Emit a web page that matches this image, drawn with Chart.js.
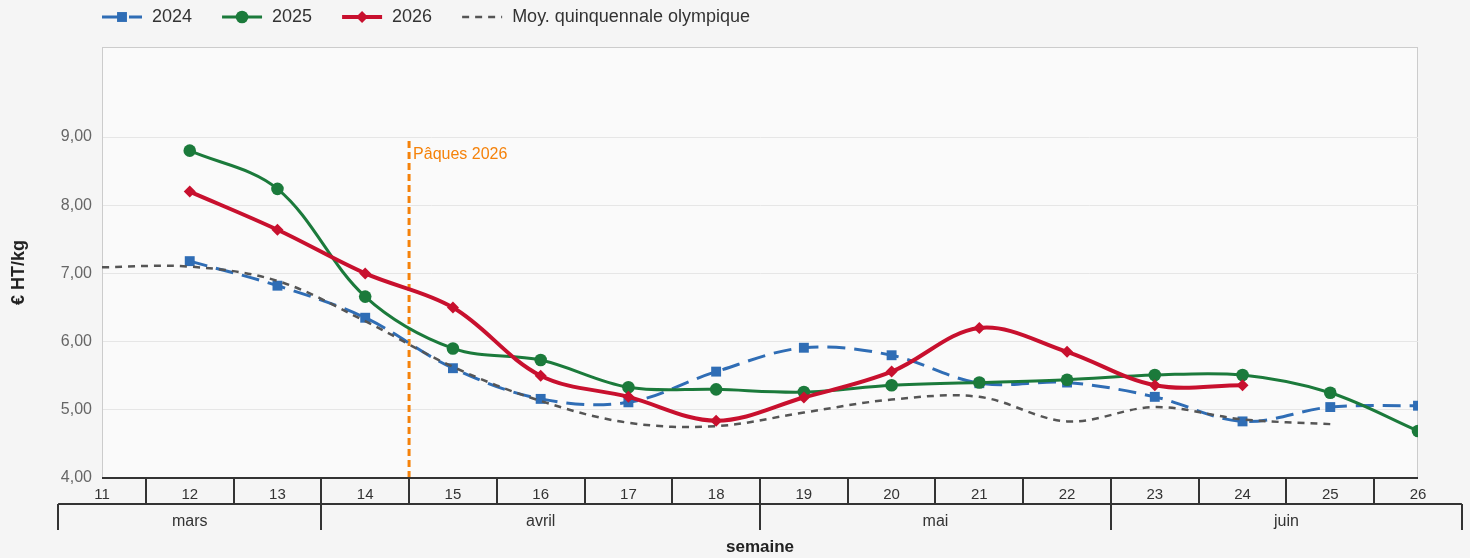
<!DOCTYPE html>
<html><head><meta charset="utf-8">
<script src="https://cdn.jsdelivr.net/npm/chart.js@4.4.1/dist/chart.umd.min.js"></script>
<style>html,body{margin:0;padding:0;background:#f5f5f5;}#wrap{width:1470px;height:558px;position:relative}</style>
</head><body><div id="wrap"><canvas id="c" width="1470" height="558"></canvas></div>
<script>
// ---- data ----
const weeks = [11,12,13,14,15,16,17,18,19,20,21,22,23,24,25,26];
const weekLabels = ['11','12','13','14','15','16','17','18','19','20','21','22','23','24','25','26'];
const months = ['mars','avril','mai','juin'];
const monthFirstWeek = [11,14,19,23];
const monthLastWeek = [13,18,22,26];
const values2024 = [null,7.18,6.82,6.35,5.61,5.16,5.11,5.56,5.91,5.80,5.39,5.40,5.19,4.83,5.04,5.06];
const values2025 = [null,8.80,8.24,6.66,5.90,5.73,5.33,5.30,5.26,5.36,5.40,5.44,5.51,5.51,5.25,4.69];
const values2026 = [null,8.20,7.64,7.00,6.50,5.50,5.19,4.84,5.18,5.56,6.20,5.85,5.36,5.36,null,null];
const valuesAvg  = [7.09,7.10,6.89,6.30,5.63,5.13,4.81,4.76,4.96,5.15,5.19,4.83,5.04,4.86,4.79,null];
const seriesNames = ['2024','2025','2026','Moy. quinquennale olympique'];
const easterWeek = 14.5;
const easterRange = [4, 9];
const easterLabel = 'Pâques 2026';
const yTickMax = 9;

const FONT = "'Liberation Sans', Arial, sans-serif";
const toPts = arr => weeks.map((w,i)=>({x:w,y:arr[i]}));

const bgPlugin = {
  id:'bg',
  beforeDraw(chart){
    const {ctx, chartArea:a} = chart;
    ctx.save();
    ctx.fillStyle='#f5f5f5'; ctx.fillRect(0,0,chart.width,chart.height);
    ctx.fillStyle='#fafafa'; ctx.fillRect(a.left,a.top,a.right-a.left,a.bottom-a.top);
    ctx.strokeStyle='#cccccc'; ctx.lineWidth=1;
    ctx.strokeRect(a.left+0.5,a.top+0.5,a.right-a.left-1,a.bottom-a.top);
    ctx.restore();
  }
};

const axisPlugin = {
  id:'axisDeco',
  afterDraw(chart){
    const {ctx, chartArea:a, scales:{x,y}} = chart;
    ctx.save();
    // easter label
    ctx.fillStyle='#f5820a'; ctx.font='16px '+FONT; ctx.textAlign='left'; ctx.textBaseline='middle';
    ctx.fillText(easterLabel, x.getPixelForValue(easterWeek)+4, y.getPixelForValue(easterRange[1])+18);
    // axis line
    ctx.strokeStyle='#333'; ctx.lineWidth=2;
    ctx.beginPath(); ctx.moveTo(a.left,a.bottom); ctx.lineTo(a.right,a.bottom); ctx.stroke();
    const r1 = a.bottom+26, r2 = a.bottom+52;
    // week separators
    ctx.beginPath();
    for(let i=0;i<weeks.length-1;i++){
      const px = Math.round(x.getPixelForValue((weeks[i]+weeks[i+1])/2));
      ctx.moveTo(px,a.bottom); ctx.lineTo(px,r1);
    }
    ctx.stroke();
    ctx.fillStyle='#333'; ctx.font='15px '+FONT; ctx.textAlign='center'; ctx.textBaseline='middle';
    weeks.forEach((w,i)=>ctx.fillText(weekLabels[i], x.getPixelForValue(w), a.bottom+17));
    // month row
    const mL = x.getPixelForValue(monthFirstWeek[0]-0.5), mR = x.getPixelForValue(monthLastWeek[monthLastWeek.length-1]+0.5);
    ctx.beginPath(); ctx.moveTo(mL,r1); ctx.lineTo(mR,r1);
    months.forEach((m,i)=>{
      const p0 = Math.round(x.getPixelForValue(monthFirstWeek[i]-0.5));
      const p1 = Math.round(x.getPixelForValue(monthLastWeek[i]+0.5));
      ctx.moveTo(p0,r1); ctx.lineTo(p0,r2); ctx.moveTo(p1,r1); ctx.lineTo(p1,r2);
    });
    ctx.stroke();
    ctx.font='16px '+FONT;
    months.forEach((m,i)=>{
      const c = (x.getPixelForValue(monthFirstWeek[i]-0.5)+x.getPixelForValue(monthLastWeek[i]+0.5))/2;
      ctx.fillText(m,c,a.bottom+44);
    });
    ctx.font='bold 17px '+FONT; ctx.fillStyle='#222';
    ctx.fillText('semaine',(a.left+a.right)/2,a.bottom+69);
    // y title
    ctx.save(); ctx.translate(19,(a.top+a.bottom)/2+10); ctx.rotate(-Math.PI/2);
    ctx.font='bold 18px '+FONT; ctx.fillStyle='#222'; ctx.fillText('€ HT/kg',0,0); ctx.restore();
    // legend
    let sx = 102; const ly = 17;
    ctx.font='18px '+FONT; ctx.textAlign='left';
    seriesNames.forEach((name,i)=>{
      const ds = chart.data.datasets[i];
      ctx.save();
      ctx.strokeStyle=ds.borderColor; ctx.lineWidth=ds.borderWidth;
      ctx.setLineDash(ds.borderDash||[]);
      ctx.beginPath(); ctx.moveTo(sx,ly); ctx.lineTo(sx+40,ly); ctx.stroke();
      ctx.setLineDash([]);
      if(ds.pointRadius>0){
        ctx.fillStyle=ds.pointBackgroundColor;
        ctx.strokeStyle=ds.pointBackgroundColor;
        Chart.helpers.drawPoint(ctx,{pointStyle:ds.pointStyle,rotation:0,radius:ds.pointRadius,borderWidth:0},sx+20,ly);
      }
      ctx.restore();
      ctx.fillStyle='#333';
      ctx.fillText(name,sx+50,ly);
      sx = sx+50+ctx.measureText(name).width+30;
    });
    ctx.restore();
  }
};

new Chart(document.getElementById('c'),{
  type:'line',
  data:{datasets:[
    {label:seriesNames[0],data:toPts(values2024),borderColor:'#2f6db5',backgroundColor:'#2f6db5',pointBackgroundColor:'#2f6db5',
     borderWidth:3,borderDash:[18,9],pointStyle:'rect',pointRadius:7,pointBorderWidth:0,tension:0.35,order:4},
    {label:seriesNames[1],data:toPts(values2025),borderColor:'#1b7a3b',backgroundColor:'#1b7a3b',pointBackgroundColor:'#1b7a3b',
     borderWidth:3,pointStyle:'circle',pointRadius:6.3,pointBorderWidth:0,tension:0.35,order:3},
    {label:seriesNames[2],data:toPts(values2026),borderColor:'#c8102e',backgroundColor:'#c8102e',pointBackgroundColor:'#c8102e',
     borderWidth:4,pointStyle:'rectRot',pointRadius:6,pointBorderWidth:0,tension:0.35,order:2},
    {label:seriesNames[3],data:toPts(valuesAvg),borderColor:'#555555',backgroundColor:'#555555',
     borderWidth:2.5,borderDash:[7,6],pointRadius:0,tension:0.35,order:1},
    {label:easterLabel,data:easterRange.map(v=>({x:easterWeek,y:v})),borderColor:'#f5820a',borderWidth:3,borderDash:[7,4],pointRadius:0,order:6}
  ]},
  options:{
    responsive:false,animation:false,devicePixelRatio:1,
    layout:{padding:{top:47,right:52,bottom:80,left:0}},
    plugins:{legend:{display:false},tooltip:{enabled:false}},
    scales:{
      x:{type:'linear',min:11,max:26,display:false},
      y:{min:4,max:10.32,
        afterBuildTicks(s){s.ticks=s.ticks.filter(t=>t.value<=yTickMax);},
        afterFit(s){s.width=102;},
        ticks:{stepSize:1,padding:10,color:'#666',font:{size:16,family:FONT},callback:v=>v.toFixed(2).replace('.',',')},
        grid:{color:'#e6e6e6',drawTicks:false},
        border:{display:true,color:'#cccccc',width:1}
      }
    }
  },
  plugins:[bgPlugin,axisPlugin]
});
</script></body></html>
